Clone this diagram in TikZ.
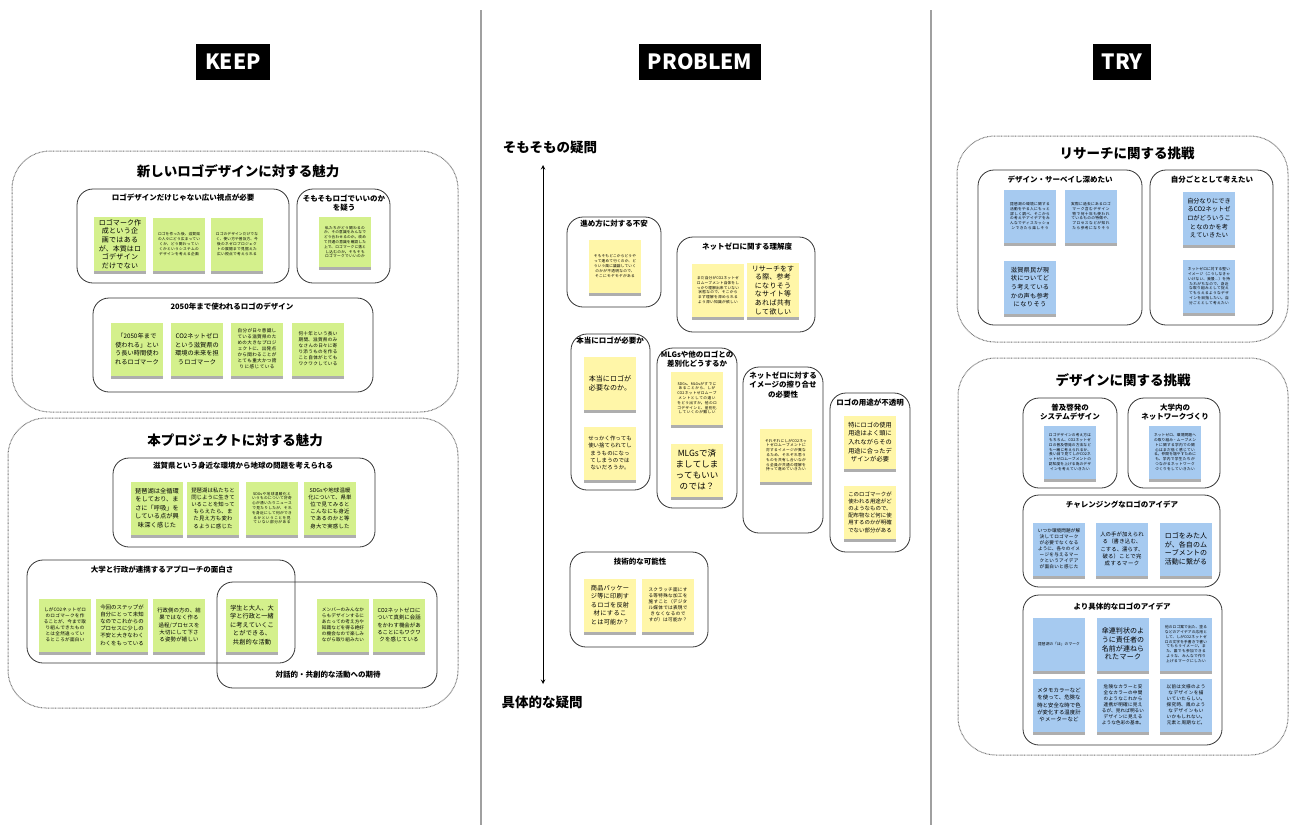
\documentclass[tikz,border=0pt]{standalone}
\usepackage{fontspec}
\setmainfont{Noto Sans CJK JP}
\XeTeXlinebreaklocale "ja"
\XeTeXlinebreakskip=0pt plus 1pt
\usepackage{xcolor}
\definecolor{gnote}{RGB}{212,240,140}
\definecolor{ynote}{RGB}{255,246,168}
\definecolor{bnote}{RGB}{166,202,240}
\definecolor{rule-gray}{RGB}{160,160,160}
\usetikzlibrary{shadows}

\tikzset{
	hdr/.style={fill=black,text=white,font=\fontsize{21}{21}\selectfont\bfseries,
		inner xsep=9pt,minimum height=36pt},
	sect/.style={font=\fontsize{13.5}{15}\selectfont\bfseries},
	gtitle/.style={font=\fontsize{7.5}{9.5}\selectfont\bfseries,align=center},
	outerbox/.style={draw=black!55,line width=1pt,dash pattern=on .7pt off .7pt,
		rounded corners=38pt},
	grpbox/.style={draw=black!80,line width=.8pt,rounded corners=16pt},
	note/.style={text width=44pt,inner xsep=4pt,inner ysep=2pt,minimum height=53pt,
		align=center,drop shadow={shadow xshift=0pt,shadow yshift=-3pt,opacity=.45,fill=black!70}},
	gn/.style={note,fill=gnote},
	yn/.style={note,fill=ynote},
	bn/.style={note,fill=bnote},
	xl/.style={font=\fontsize{8.5}{11}\selectfont},
	lg/.style={font=\fontsize{7}{8.6}\selectfont},
	md/.style={font=\fontsize{6.2}{8.6}\selectfont},
	mm/.style={font=\fontsize{5.4}{7.2}\selectfont},
	ms/.style={font=\fontsize{4.6}{6}\selectfont},
	sm/.style={font=\fontsize{3.7}{4.8}\selectfont},
}

\begin{document}
\begin{tikzpicture}[x=1pt,y=-1pt,>=stealth]
	\fill[white] (0,0) rectangle (1296,825);
	\useasboundingbox (0,0) rectangle (1296,825);
	
	\draw[rule-gray,line width=2pt] (481,10) -- (481,825);
	\draw[rule-gray,line width=2pt] (931,10) -- (931,825);
	
	\node[hdr] (keep) at (233,62) {KEEP};
	\node[hdr] (problem) at (700,62) {PROBLEM};
	\node[hdr] (try) at (1122,62) {TRY};
	
	%% KEEP
	\draw[outerbox] (12,151) rectangle (458,412);
	\node[sect] (k-att) at (238,171) {新しいロゴデザインに対する魅力};
	
	\draw[grpbox] (77,189) rectangle (289,283);
	\node[gtitle] (k-view) at (183,198) {ロゴデザインだけじゃない広い視点が必要};
	\node[gn,lg] (k-v1) at (120,244) {ロゴマーク作成という企画ではあるが、本質はロゴデザインだけでない};
	\node[gn,sm] (k-v2) at (179,244) {ロゴを作った後、滋賀県の人々にどう広まっていくか、どう関わっていくかというシステムのデザインを考える企画};
	\node[gn,sm] (k-v3) at (237,244) {ロゴのデザインだけでなく、使い方や普及方、今後のネゼロプロジェクトの展開まで見据えた広い視点で考えられる};
	
	\draw[grpbox] (297,189) rectangle (390,283);
	\node[gtitle] (k-doubt) at (344,203) {そもそもロゴでいいのか\\を疑う};
	\node[gn,sm,minimum height=50pt] (k-d1) at (345,242) {私たちがどう関わるのか、その意識をみんなでどう合わせるのか。改めて共通の意識を確認した上で、ロゴマークに落とし込むのか。そもそもロゴマークでいいのか};
	
	\draw[grpbox] (93,298) rectangle (373,392);
	\node[gtitle] (k-2050) at (232,307) {2050年まで使われるロゴのデザイン};
	\node[gn,md] (k-y1) at (137,349) {「2050年まで使われる」という長い時間使われるロゴマーク};
	\node[gn,md] (k-y2) at (197,349) {CO2ネットゼロという滋賀県の環境の未来を担うロゴマーク};
	\node[gn,ms] (k-y3) at (257,349) {自分が日々意識している滋賀県のための大きなプロジェクトに、出発点から関わることがとても重大かつ誇りに感じている};
	\node[gn,ms] (k-y4) at (318,349) {何十年という長い期間、滋賀県のみなさんの日々に寄り添うものを作ること自体がとてもワクワクしている};
	
	\draw[outerbox] (8,418) rectangle (458,708);
	\node[sect] (k-proj) at (235,440) {本プロジェクトに対する魅力};
	
	\draw[grpbox] (113,458) rectangle (375,547);
	\node[gtitle] (k-shiga) at (243,466) {滋賀県という身近な環境から地球の問題を考えられる};
	\node[gn,md] (k-s1) at (157,508) {琵琶湖は全循環をしており、まさに「呼吸」をしている点が興味深く感じた};
	\node[gn,mm] (k-s2) at (213,508) {琵琶湖は私たちと同じように生きていることを知ってもらえたら、また見え方も変わるように感じた};
	\node[gn,sm] (k-s3) at (272,508) {SDGsや地球温暖化というものについて好奇心が湧いたりニュースで見たりしたが、それを身近にして何ができるかということを見ていない部分がある};
	\node[gn,mm] (k-s4) at (330,508) {SDGsや地球温暖化について、県単位で見てみるとこんなにも身近であるのかと等身大で実感した};
	
	\draw[grpbox] (27,560) rectangle (295,663);
	\node[gtitle] (k-univ) at (162,570) {大学と行政が連携するアプローチの面白さ};
	\draw[grpbox] (217,582) rectangle (437,688);
	\node[gtitle] (k-dlg) at (328,675) {対話的・共創的な活動への期待};
	\node[gn,ms] (k-u1) at (65,625) {しがCO2ネットゼロのロゴマークを作ることが、今まで取り組んできたものとは全然違っているところが面白い};
	\node[gn,mm] (k-u2) at (122,625) {今回のステップが自分にとって未知なのでこれからのプロセスに少しの不安と大きなわくわくをもっている};
	\node[gn,mm] (k-u3) at (179,625) {行政側の方の、結果ではなく作る過程/プロセスを大切にして下さる姿勢が嬉しい};
	\node[gn,md] (k-c1) at (252,625) {学生と大人、大学と行政と一緒に考えていくことができる、共創的な活動};
	\node[gn,ms] (k-c2) at (343,625) {メンバーのみんなからもデザインするにあたっての考え方や知識などを得る絶好の機会なので楽しみながら取り組みたい};
	\node[gn,mm] (k-c3) at (399,625) {CO2ネットゼロについて真剣に会話をかわす機会があることにもワクワクを感じている};
	
	%% PROBLEM
	\node[sect] (p-top) at (550,147) {そもそもの疑問};
	\node[sect] (p-bot) at (542,702) {具体的な疑問};
	\coordinate (q-up) at (543,165);
	\coordinate (q-dn) at (543,684);
	\draw[<->,line width=1pt] (q-dn) -- (q-up);
	
	\draw[grpbox] (567,217) rectangle (661,307);
	\node[gtitle] (p-way) at (614,224) {進め方に対する不安};
	\node[yn,sm] (p-m1) at (615,266) {そもそもどこからどうやって進めて行くのか、どういう風に議論していくのかが不透明なので、そこにモヤモヤがある};
	
	\draw[grpbox] (677,237) rectangle (815,332);
	\node[gtitle] (p-net) at (747,247) {ネットゼロに関する理解度};
	\node[yn,sm] (p-n1) at (718,290) {まだ自分がCO2ネットゼロムーブメント自体をしっかり理解出来ていない状態なので、そこからまず理解を深められるよう深い知識が欲しい};
	\node[yn,lg] (p-n2) at (773,290) {リサーチをする際、参考になりそうなサイト等あれば共有して欲しい};
	
	\draw[grpbox] (571,334) rectangle (650,490);
	\node[gtitle] (p-need) at (610,341) {本当にロゴが必要か};
	\node[yn,lg] (p-r1) at (610,383) {本当にロゴが必要なのか。};
	\node[yn,mm] (p-r2) at (610,453) {せっかく作っても使い捨てられてしまうものになってしまうのではないだろうか。};
	
	\draw[grpbox] (657,348) rectangle (737,508);
	\node[gtitle] (p-mlg) at (697,359) {MLGsや他のロゴとの\\差別化どうするか};
	\node[yn,sm] (p-g1) at (697,398) {SDGs、MLGsがすでにあることから、しがCO2ネットゼロムーブメントとしての違いをどう出すか。他のロゴデザインと、差別化していくのが難しい};
	\node[yn,xl] (p-g2) at (697,470) {MLGsで済ましてしまってもいいのでは？};
	
	\draw[grpbox] (743,367) rectangle (823,533);
	\node[gtitle] (p-img) at (783,385) {ネットゼロに対する\\イメージの擦り合せ\\の必要性};
	\node[yn,sm] (p-i1) at (786,455) {それぞれにしがCO2ネットゼロムーブメントに対するイメージが異なるため、それぞれ思うものを共有し合いながら全員が共通の理解を持って進めていきたい};
	
	\draw[grpbox] (830,393) rectangle (910,552);
	\node[gtitle] (p-use) at (870,403) {ロゴの用途が不透明};
	\node[yn,md] (p-u1) at (870,442) {特にロゴの使用用途はよく頭に入れながらその用途に合ったデザインが必要};
	\node[yn,mm] (p-u2) at (870,512) {このロゴマークが使われる用途がどのようなもので、配布物など何に使用するのかが明確でない部分がある};
	
	\draw[grpbox] (570,552) rectangle (708,647);
	\node[gtitle] (p-tech) at (640,562) {技術的な可能性};
	\node[yn,md] (p-t1) at (610,605) {商品パッケージ等に印刷するロゴを反射材にすることは可能か？};
	\node[yn,ms] (p-t2) at (668,605) {スクラッチ面にする等特殊な加工を施すこと（デジタル媒体では表現できなくなるのですが）は可能か？};
	
	%% TRY
	\draw[outerbox] (957,136) rectangle (1288,342);
	\node[sect] (t-res) at (1127,153) {リサーチに関する挑戦};
	
	\draw[grpbox] (978,170) rectangle (1142,325);
	\node[gtitle] (t-survey) at (1060,180) {デザイン・サーベイし深めたい};
	\node[bn,sm] (t-s1) at (1030,216) {琵琶湖の環境に関する活動をやる人にもっと詳しく調べ、そこからの考えやアイデアをみんなでディスカッションできたら楽しそう};
	\node[bn,sm] (t-s2) at (1091,216) {実際に過去にあるロゴマーク含むデザイン物で何十年も使われているものの特徴や、プロセスなどが知れたら参考になりそう};
	\node[bn,md] (t-s3) at (1030,287) {滋賀県民が現状についてどう考えているかの声も参考になりそう};
	
	\draw[grpbox] (1150,170) rectangle (1273,325);
	\node[gtitle] (t-own) at (1212,180) {自分ごととして考えたい};
	\node[bn,md] (t-o1) at (1209,218) {自分なりにできるCO2ネットゼロがどういうことなのかを考えていきたい};
	\node[bn,sm] (t-o2) at (1209,286) {ネットゼロに対する堅いイメージ（こうしなきゃいけない、我慢…）を持たれがちなので、身近な取り組みとして捉えてもらえるようなデザインを目指したい。自分ごととして考えたい};
	
	\draw[outerbox] (958,358) rectangle (1288,755);
	\node[sect] (t-des) at (1123,380) {デザインに関する挑戦};
	
	\draw[grpbox] (1023,398) rectangle (1117,488);
	\node[gtitle] (t-spread) at (1070,412) {普及啓発の\\システムデザイン};
	\node[bn,sm] (t-p1) at (1070,452) {ロゴデザインの考え方はもちろん、CO2ネットゼロの普及啓発の方法なども一緒に考えられるか、長い目で見てしがCO2ネットゼロムーブメントの認知度を上げる為のデザインを考えていきたい};
	
	\draw[grpbox] (1128,398) rectangle (1220,488);
	\node[gtitle] (t-net) at (1175,412) {大学内の\\ネットワークづくり};
	\node[bn,sm] (t-n1) at (1175,452) {ネットゼロ、環境問題への取り組み・ムーブメントに関する学内での関心はまだ低く感じている。仲間を増やすためにも、学内で学生たちがつながるネットワークづくりをしていきたい};
	
	\draw[grpbox] (1023,495) rectangle (1220,587);
	\node[gtitle] (t-chal) at (1122,505) {チャレンジングなロゴのアイデア};
	\node[bn,ms] (t-c1) at (1059,549) {いつか環境問題が解決してロゴマークが必要でなくなるように、各々のイメージを与えるマークというアイデアが面白いと感じた};
	\node[bn,mm] (t-c2) at (1122,549) {人の手が加えられる（書き込む、こする、濡らす、破る）ことで完成するマーク};
	\node[bn,lg] (t-c3) at (1186,549) {ロゴをみた人が、各自のムーブメントの活動に繋がる};
	
	\draw[grpbox] (1023,595) rectangle (1222,745);
	\node[gtitle] (t-conc) at (1122,607) {より具体的なロゴのアイデア};
	\node[bn,sm] (t-k1) at (1059,644) {琵琶湖の「ほ」のマーク};
	\node[bn,lg] (t-k2) at (1123,644) {傘連判状のように責任者の名前が連ねられたマーク};
	\node[bn,sm] (t-k3) at (1186,644) {他のロゴ案で出た、塗るなどのアイデアの応用として、しがCO2ネットゼロの文字を手書きで書いてもらうイメージ。また、誰でも参加できるような、みんなで作り上げるマークにしたい};
	\node[bn,mm] (t-k4) at (1059,705) {メタモカラーなどを使って、危険な時と安全な時で色が変化する温度計やメーターなど};
	\node[bn,ms] (t-k5) at (1123,705) {危険なカラーと安全なカラーの中間のようなこれから連携が明確に見えるが、見れば明るいデザインに見えるような色彩の基本。};
	\node[bn,ms] (t-k6) at (1186,705) {以前は文様のようなデザインを描いていたらしい。探究時、鳳のようなデザインもいいかもしれない。元素と周期など。};
\end{tikzpicture}
\end{document}
